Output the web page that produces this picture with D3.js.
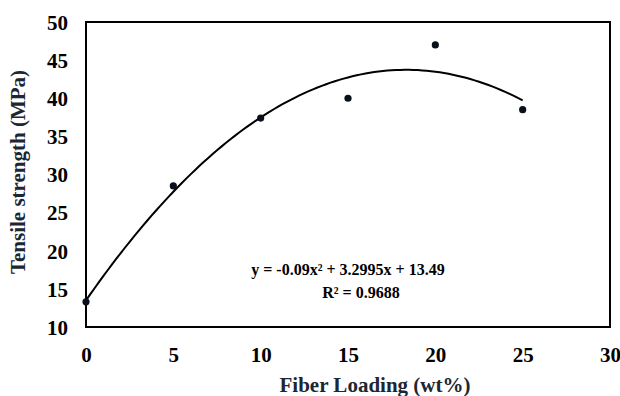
<!DOCTYPE html>
<html>
<head>
<meta charset="utf-8">
<script src="https://cdn.jsdelivr.net/npm/d3@7"></script>
<style>
  html, body { margin: 0; padding: 0; background: #fff; }
  svg { display: block; }
</style>
</head>
<body>
<svg id="chart" width="620" height="396"></svg>
<script>
// ---- data ----
const fiberLoading = [0, 5, 10, 15, 20, 25];
const tensileStrength = [13.3, 28.5, 37.4, 40.0, 47.0, 38.5];
const xTicks = [0, 5, 10, 15, 20, 25, 30];
const yTicks = [10, 15, 20, 25, 30, 35, 40, 45, 50];
// polynomial trendline coefficients shown on the chart: a*x^2 + b*x + c
const trendCoef = [-0.09, 3.2995, 13.49];
const trendRange = [0, 25];
const equationLines = ["y = -0.09x² + 3.2995x + 13.49", "R² = 0.9688"];

// ---- layout ----
const svg = d3.select("#chart");
const L = 86, R = 610, T = 22, B = 327;
const font = "'Liberation Serif', 'Times New Roman', serif";

const x = d3.scaleLinear().domain([0, 30]).range([L, R]);
const y = d3.scaleLinear().domain([10, 50]).range([B, T]);

// plot border
svg.append("rect")
  .attr("x", L).attr("y", T).attr("width", R - L).attr("height", B - T)
  .attr("fill", "none").attr("stroke", "#000").attr("stroke-width", 2);

// x axis labels
const xAxis = d3.axisBottom(x).tickValues(xTicks).tickSize(0).tickPadding(0).tickFormat(d3.format("d"));
const gx = svg.append("g").attr("transform", `translate(0,${B})`).call(xAxis);
gx.select(".domain").remove();
gx.selectAll("text")
  .attr("dy", null).attr("y", 35)
  .style("font-family", font).style("font-weight", "bold").style("font-size", "21px").attr("fill", "#000");

// y axis labels
const yAxis = d3.axisLeft(y).tickValues(yTicks).tickSize(0).tickPadding(0).tickFormat(d3.format("d"));
const gy = svg.append("g").attr("transform", `translate(${L},0)`).call(yAxis);
gy.select(".domain").remove();
gy.selectAll("text")
  .attr("x", -18).attr("dy", "0.35em")
  .style("font-family", font).style("font-weight", "bold").style("font-size", "21px").attr("fill", "#000");

// trendline
const trend = x0 => trendCoef[0] * x0 * x0 + trendCoef[1] * x0 + trendCoef[2];
const trendXs = d3.range(trendRange[0], trendRange[1] + 0.001, 0.25);
svg.append("path")
  .datum(trendXs)
  .attr("d", d3.line().x(d => x(d)).y(d => y(trend(d))))
  .attr("fill", "none").attr("stroke", "#000").attr("stroke-width", 2);

// points
svg.append("g").selectAll("circle")
  .data(fiberLoading.map((v, i) => [v, tensileStrength[i]]))
  .join("circle")
  .attr("cx", d => x(d[0])).attr("cy", d => y(d[1])).attr("r", 3.6)
  .attr("fill", "#0a0f1e");

// equation text
svg.append("text")
  .attr("x", 348).attr("y", 275).attr("text-anchor", "middle")
  .style("font-family", font).style("font-weight", "bold").style("font-size", "16px")
  .text(equationLines[0]);
svg.append("text")
  .attr("x", 361).attr("y", 298).attr("text-anchor", "middle")
  .style("font-family", font).style("font-weight", "bold").style("font-size", "16px")
  .text(equationLines[1]);

// axis titles
svg.append("text")
  .attr("x", 375).attr("y", 392).attr("text-anchor", "middle")
  .style("font-family", font).style("font-weight", "bold").style("font-size", "21px")
  .attr("fill", "#1c2733")
  .text("Fiber Loading (wt%)");
svg.append("text")
  .attr("transform", "translate(25,172) rotate(-90)").attr("text-anchor", "middle")
  .style("font-family", font).style("font-weight", "bold").style("font-size", "21px")
  .attr("fill", "#1c2733")
  .text("Tensile strength (MPa)");
</script>
</body>
</html>
